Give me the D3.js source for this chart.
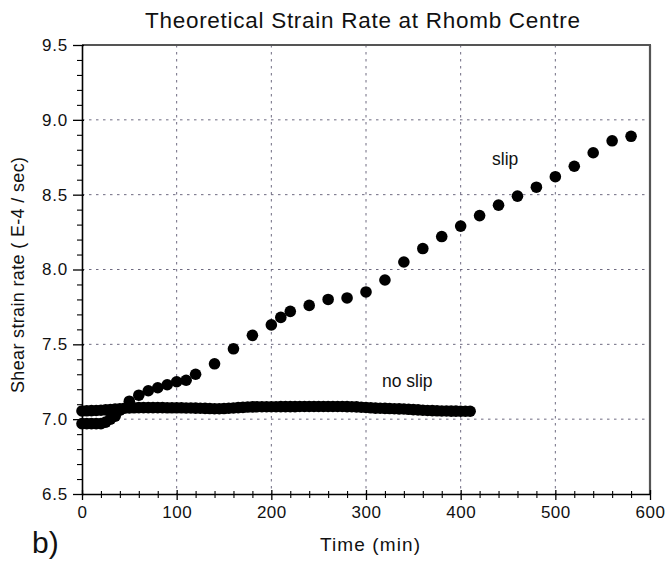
<!DOCTYPE html>
<html>
<head>
<meta charset="utf-8">
<script src="https://cdn.jsdelivr.net/npm/d3@7"></script>
<style>
  html, body { margin: 0; padding: 0; background: #fff; }
  svg text { font-family: "Liberation Sans", Arial, Helvetica, sans-serif; fill: #111; }
</style>
</head>
<body>
<svg id="chart" width="666" height="562"></svg>
<script>
// ---- data ----
const titleText = "Theoretical Strain Rate at Rhomb Centre";
const xLabel = "Time (min)";
const yLabel = "Shear strain rate ( E-4 / sec)";
const panelLabel = "b)";

const xTicks = [0, 100, 200, 300, 400, 500, 600];
const yTicks = [6.5, 7.0, 7.5, 8.0, 8.5, 9.0, 9.5];

const slipTime = [0, 5, 10, 15, 20, 25, 30, 35, 40, 50, 60, 70, 80, 90, 100, 110, 120,
  140, 160, 180, 200, 210, 220, 240, 260, 280, 300, 320, 340, 360, 380, 400,
  420, 440, 460, 480, 500, 520, 540, 560, 580];
const slipRate = [6.97, 6.97, 6.97, 6.97, 6.97, 6.98, 7.0, 7.02, 7.06, 7.12, 7.16, 7.19, 7.21, 7.23, 7.25, 7.26, 7.30,
  7.37, 7.47, 7.56, 7.63, 7.68, 7.72, 7.76, 7.80, 7.81, 7.85, 7.93, 8.05, 8.14, 8.22, 8.29,
  8.36, 8.43, 8.49, 8.55, 8.62, 8.69, 8.78, 8.86, 8.89];

const noSlipTime = [0, 5, 10, 15, 20, 25, 30, 35, 40, 45, 50, 55, 60, 65, 70, 75, 80, 85, 90, 95,
  100, 105, 110, 115, 120, 125, 130, 135, 140, 145, 150, 155, 160, 165, 170, 175, 180, 185, 190, 195,
  200, 205, 210, 215, 220, 225, 230, 235, 240, 245, 250, 255, 260, 265, 270, 275, 280, 285, 290, 295,
  300, 305, 310, 315, 320, 325, 330, 335, 340, 345, 350, 355, 360, 365, 370, 375, 380, 385, 390, 395,
  400, 405, 410];
const noSlipRate = [7.055, 7.056, 7.057, 7.058, 7.06, 7.062, 7.065, 7.068, 7.07, 7.073, 7.075, 7.076, 7.077, 7.077, 7.077, 7.077, 7.077, 7.077, 7.076, 7.076,
  7.076, 7.076, 7.075, 7.075, 7.074, 7.073, 7.072, 7.071, 7.07, 7.07, 7.071, 7.073, 7.075, 7.077, 7.079, 7.081, 7.082, 7.083, 7.083, 7.083,
  7.083, 7.083, 7.084, 7.084, 7.084, 7.084, 7.085, 7.085, 7.085, 7.085, 7.085, 7.085, 7.085, 7.085, 7.085, 7.085, 7.084, 7.083, 7.082, 7.08,
  7.078, 7.076, 7.074, 7.073, 7.072, 7.071, 7.07, 7.069, 7.068, 7.066, 7.064, 7.062, 7.06, 7.058, 7.057, 7.056, 7.055, 7.055, 7.054, 7.054,
  7.053, 7.053, 7.053];

// ---- layout ----
const svg = d3.select("#chart");
const L = 82, R = 650, T = 45, B = 494;
const x = d3.scaleLinear().domain([0, 600]).range([L, R]);
const y = d3.scaleLinear().domain([6.5, 9.5]).range([B, T]);

const xMinor = d3.range(0, 601, 20).filter(v => v % 100 !== 0);
const yMinor = d3.range(65, 96, 1).map(v => v / 10).filter(v => Math.round(v * 10) % 5 !== 0);

// grid (dotted)
const grid = svg.append("g").attr("stroke", "#6e6a80").attr("stroke-width", 1).attr("stroke-dasharray", "2.5,4.5");
grid.selectAll("line.gx").data(xTicks.filter(v => v > 0 && v < 600)).join("line")
  .attr("x1", d => x(d)).attr("x2", d => x(d)).attr("y1", T).attr("y2", B);
grid.selectAll("line.gy").data(yTicks.filter(v => v > 6.5 && v < 9.5)).join("line")
  .attr("x1", L).attr("x2", R).attr("y1", d => y(d)).attr("y2", d => y(d));

// frame top & right (gray)
svg.append("line").attr("x1", L).attr("x2", R + 1).attr("y1", T).attr("y2", T)
  .attr("stroke", "#555").attr("stroke-width", 2.2);
svg.append("line").attr("x1", R).attr("x2", R).attr("y1", T).attr("y2", B)
  .attr("stroke", "#555").attr("stroke-width", 2.2);

// data: no slip band
svg.append("g").selectAll("circle").data(noSlipTime.map((t, i) => [t, noSlipRate[i]])).join("circle")
  .attr("cx", d => x(d[0])).attr("cy", d => y(d[1])).attr("r", 5.8).attr("fill", "#000");

// data: slip
svg.append("g").selectAll("circle").data(slipTime.map((t, i) => [t, slipRate[i]])).join("circle")
  .attr("cx", d => x(d[0])).attr("cy", d => y(d[1])).attr("r", 5.8).attr("fill", "#000");

// axes
const tickFont = "17px";
const xAxis = svg.append("g").attr("transform", `translate(0,${B})`)
  .call(d3.axisBottom(x).tickValues(xTicks).tickFormat(d3.format("d")).tickSizeInner(6).tickSizeOuter(0).tickPadding(4));
xAxis.select(".domain").attr("stroke", "#000").attr("stroke-width", 1.6);
xAxis.selectAll(".tick line").attr("y1", -4).attr("stroke", "#000").attr("stroke-width", 1.3);
xAxis.selectAll("text").attr("font-size", tickFont).attr("letter-spacing", "0.5px").attr("dy", "0.85em");

const xAxisMinor = svg.append("g").attr("transform", `translate(0,${B})`)
  .call(d3.axisBottom(x).tickValues(xMinor).tickFormat("").tickSizeInner(4).tickSizeOuter(0));
xAxisMinor.select(".domain").remove();
xAxisMinor.selectAll(".tick line").attr("y1", -3).attr("stroke", "#000").attr("stroke-width", 1.1);

const yAxis = svg.append("g").attr("transform", `translate(${L},0)`)
  .call(d3.axisLeft(y).tickValues(yTicks).tickFormat(d3.format(".1f")).tickSizeInner(9).tickSizeOuter(0).tickPadding(5));
yAxis.select(".domain").attr("stroke", "#000").attr("stroke-width", 1.6);
yAxis.selectAll(".tick line").attr("x1", 2).attr("stroke", "#000").attr("stroke-width", 1.3);
yAxis.selectAll("text").attr("font-size", tickFont).attr("letter-spacing", "0.8px");

const yAxisMinor = svg.append("g").attr("transform", `translate(${L},0)`)
  .call(d3.axisLeft(y).tickValues(yMinor).tickFormat("").tickSizeInner(5).tickSizeOuter(0));
yAxisMinor.select(".domain").remove();
yAxisMinor.selectAll(".tick line").attr("stroke", "#000").attr("stroke-width", 1.1);

// titles
svg.append("text").attr("x", 145).attr("y", 28).attr("font-size", "22.5px")
  .attr("textLength", 435).attr("lengthAdjust", "spacing").text(titleText);
svg.append("text").attr("x", 320).attr("y", 551).attr("font-size", "19px")
  .attr("textLength", 100).attr("lengthAdjust", "spacing").text(xLabel);
svg.append("text").attr("transform", `translate(24,${393}) rotate(-90)`).attr("font-size", "18px")
  .attr("textLength", 236).attr("lengthAdjust", "spacing").text(yLabel);
svg.append("text").attr("x", 32).attr("y", 553).attr("font-size", "30px").text(panelLabel);

// annotations
svg.append("text").attr("x", 492).attr("y", 165).attr("font-size", "17.5px").text("slip");
svg.append("text").attr("x", 382).attr("y", 387).attr("font-size", "17.5px").text("no slip");
</script>
</body>
</html>
